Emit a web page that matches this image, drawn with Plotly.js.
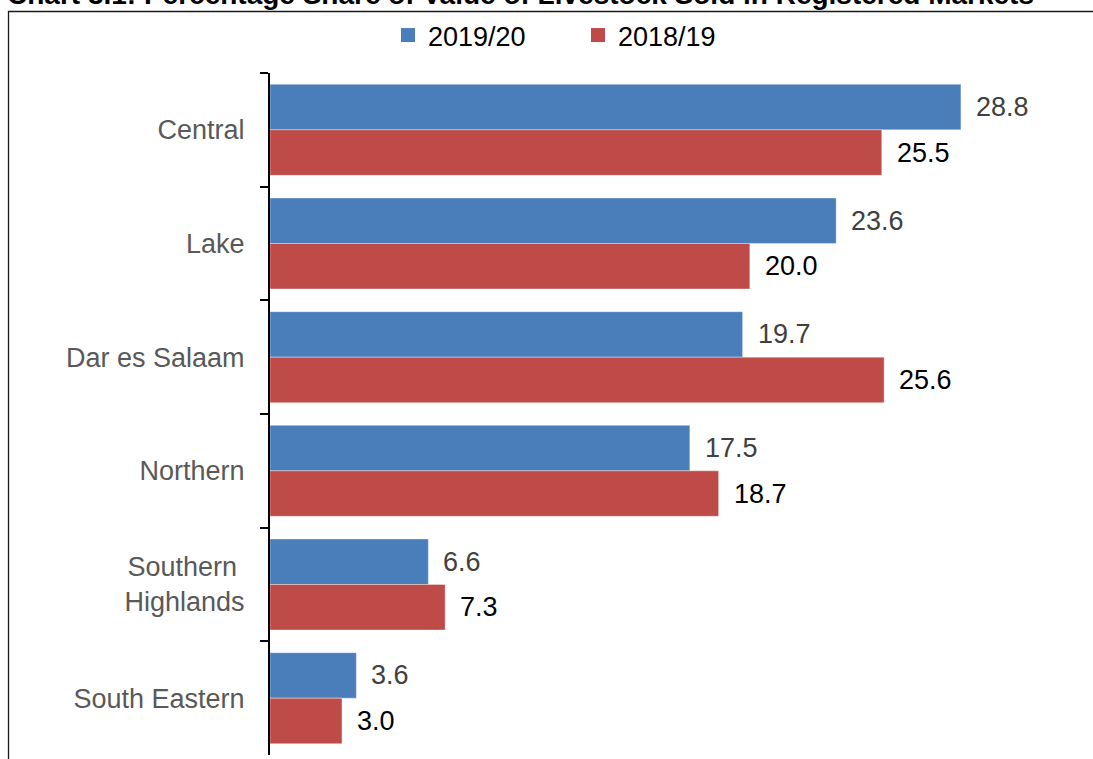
<!DOCTYPE html>
<html>
<head>
<meta charset="utf-8">
<script src="https://cdn.plot.ly/plotly-3.0.1.min.js"></script>
<style>html,body{margin:0;padding:0;background:#fff;overflow:hidden}#chart{width:1093px;height:759px}</style>
</head>
<body>
<div id="chart"></div>
<script>
var categories = ["Central", "Lake", "Dar es Salaam", "Northern", "Southern\u00a0<br>Highlands", "South Eastern"];
var series2019 = [28.8, 23.6, 19.7, 17.5, 6.6, 3.6];
var series2018 = [25.5, 20.0, 25.6, 18.7, 7.3, 3.0];
var seriesNames = ["2019/20", "2018/19"];
var seriesColors = ["#4A7EBB", "#BE4B48"];
var titleText = "Chart 3.1: Percentage Share of Value of Livestock Sold in Registered Markets";

var FONT = "Liberation Sans, Arial, sans-serif";
var W = 1093, H = 759;
var mL = 270, mR = 0, mT = 73, mB = 4;
var pw = W - mL - mR, ph = H - mT - mB;
var pxPerUnit = 23.99;

var traces = [
  {type: "bar", orientation: "h", name: seriesNames[0], y: categories, x: series2019, showlegend: false,
   marker: {color: seriesColors[0], line: {color: "rgba(255,255,255,0.35)", width: 1}}, hoverinfo: "x+y"},
  {type: "bar", orientation: "h", name: seriesNames[1], y: categories, x: series2018, showlegend: false,
   marker: {color: seriesColors[1], line: {color: "rgba(255,255,255,0.35)", width: 1}}, hoverinfo: "x+y"},
  // legend-only keys (larger square swatches, as in the reference)
  {type: "scatter", mode: "markers", name: seriesNames[0], x: [null], y: [null], showlegend: true,
   marker: {symbol: "square", size: 14, color: seriesColors[0]}, hoverinfo: "skip"},
  {type: "scatter", mode: "markers", name: seriesNames[1], x: [null], y: [null], showlegend: true,
   marker: {symbol: "square", size: 14, color: seriesColors[1]}, hoverinfo: "skip"}
];

var annotations = [];
series2019.forEach(function(v, i) {
  annotations.push({x: v, y: i - 0.2, xref: "x", yref: "y", text: v.toFixed(1), showarrow: false,
    xanchor: "left", yanchor: "middle", xshift: 13, font: {family: FONT, size: 27, color: "#404040"}});
});
series2018.forEach(function(v, i) {
  annotations.push({x: v, y: i + 0.2, xref: "x", yref: "y", text: v.toFixed(1), showarrow: false,
    xanchor: "left", yanchor: "middle", xshift: 13, font: {family: FONT, size: 27, color: "#000000"}});
});

function px2x(px) { return (px - mL) / pw; }
function px2y(py) { return (H - mB - py) / ph; }

var layout = {
  width: W, height: H,
  margin: {l: mL, r: mR, t: mT, b: mB, pad: 0},
  paper_bgcolor: "#ffffff", plot_bgcolor: "#ffffff",
  font: {family: FONT, size: 27, color: "#000"},
  title: {text: "<b>" + titleText + "</b>", font: {family: FONT, size: 28, color: "#000"},
          xref: "container", x: 7 / W, xanchor: "left",
          yref: "container", y: 1 - 4 / H, yanchor: "bottom", pad: {t: 0, b: 0, l: 0, r: 0}},
  barmode: "group", bargap: 0.2, bargroupgap: 0,
  showlegend: true,
  legend: {orientation: "h", xref: "container", yref: "container", x: 388 / W, xanchor: "left",
           y: 1 - 11 / H, yanchor: "top", font: {family: FONT, size: 27, color: "#000"},
           entrywidth: 145, entrywidthmode: "pixels", traceorder: "normal", itemsizing: "trace",
           bgcolor: "rgba(0,0,0,0)"},
  xaxis: {range: [0, pw / pxPerUnit], visible: false, fixedrange: true},
  yaxis: {type: "category", autorange: "reversed", showline: true, linecolor: "#000", linewidth: 2,
          ticks: "outside", tickson: "boundaries", ticklen: 8, tickwidth: 2, tickcolor: "#000",
          showgrid: false, zeroline: false, ticklabelstandoff: 18,
          tickfont: {family: FONT, size: 27, color: "#595959"}, fixedrange: true},
  shapes: [{type: "rect", xref: "paper", yref: "paper", x0: px2x(8.5), x1: px2x(1110), y0: px2y(780), y1: px2y(11.5),
            line: {color: "#1a1a1a", width: 1.3}, fillcolor: "rgba(0,0,0,0)", layer: "above"}],
  annotations: annotations
};

Plotly.newPlot("chart", traces, layout, {displayModeBar: false, staticPlot: true});
</script>
</body>
</html>
